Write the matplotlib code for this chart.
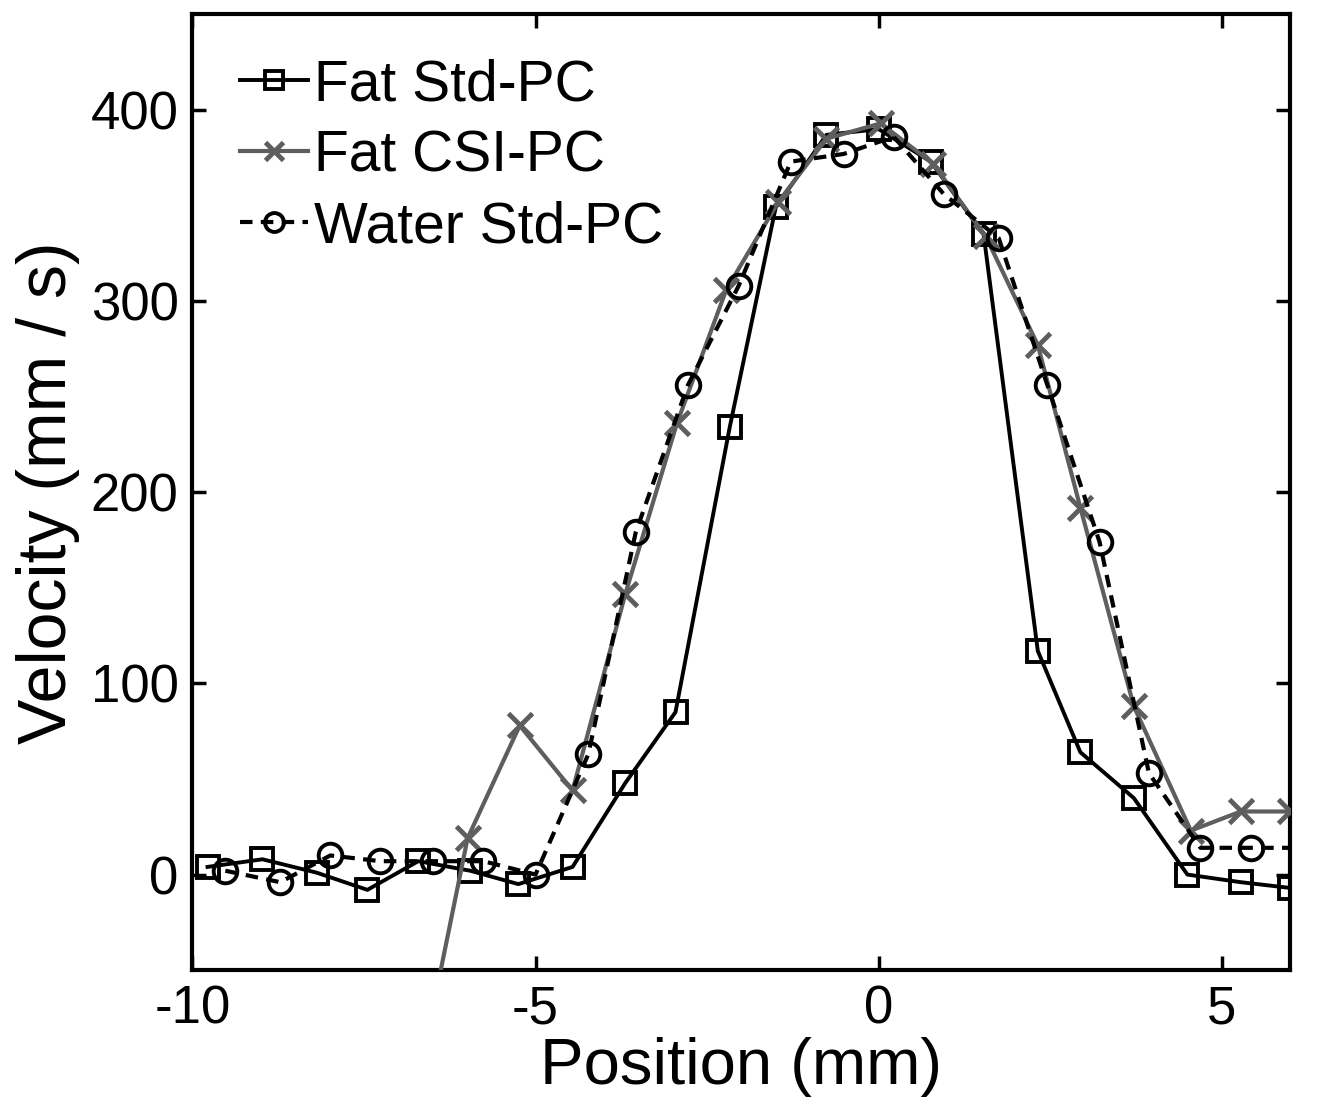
import matplotlib
matplotlib.use("Agg")
import matplotlib.pyplot as plt

plt.rcParams['font.family'] = ['Liberation Sans', 'DejaVu Sans']
plt.rcParams['axes.unicode_minus'] = False

# Fat Std-PC
fat_std_x = [-9.78, -8.98, -8.19, -7.45, -6.71, -5.95, -5.25, -4.46, -3.69, -2.96, -2.17,
             -1.50, -0.76, 0.0, 0.76, 1.53, 2.32, 2.94, 3.72, 4.50, 5.28, 6.0]
fat_std_y = [4, 8, 1, -8, 7, 2, -5, 4, 48, 85, 234,
             349, 387, 390, 373, 335, 117, 64, 40, 0, -4, -7]

# Fat CSI-PC
fat_csi_x = [-6.75, -5.99, -5.23, -4.46, -3.69, -2.94, -2.22, -1.46, -0.76, 0.03, 0.79,
             1.56, 2.32, 2.94, 3.72, 4.55, 5.28, 6.0]
fat_csi_y = [-115, 19, 78, 44, 147, 236, 306, 352, 385, 393, 372,
             334, 277, 192, 88, 23, 33, 33]

# Water Std-PC
water_x = [-9.52, -8.72, -7.99, -7.26, -6.50, -5.76, -5.0, -4.23, -3.54, -2.78, -2.04,
           -1.28, -0.51, 0.22, 0.95, 1.75, 2.46, 3.22, 3.94, 4.69, 5.42, 6.15]
water_y = [2, -4, 10, 7, 7, 7, 0, 63, 179, 256, 308,
           373, 377, 386, 356, 333, 256, 174, 53, 14, 14, 14]

x_ticks = [-10, -5, 0, 5]
y_ticks = [0, 100, 200, 300, 400]

fig = plt.figure(figsize=(13.18, 11.10), dpi=100)
ax = fig.add_axes([0.146, 0.126, 0.833, 0.861])

gray = '#5e5e5e'
ax.plot(fat_std_x, fat_std_y, color='black', lw=2.8, marker='s', ms=16,
        mfc='none', mec='black', mew=2.8, label='Fat Std-PC', zorder=3)
ax.plot(fat_csi_x, fat_csi_y, color=gray, lw=3.0, marker='x', ms=17,
        mec=gray, mew=3.5, label='Fat CSI-PC', zorder=4)
ax.plot(water_x, water_y, color='black', lw=3.0, ls=(0, (3, 2)), marker='o', ms=17,
        mfc='none', mec='black', mew=2.8, label='Water Std-PC', zorder=5)

ax.set_xlim(-10, 6)
ax.set_ylim(-50, 450)
ax.set_xticks(x_ticks)
ax.set_yticks(y_ticks)
ax.tick_params(direction='in', length=10, width=2.5, labelsize=38,
               top=True, right=True, pad=10)
for s in ax.spines.values():
    s.set_linewidth(3)

ax.set_xlabel('Position (mm)', fontsize=47, labelpad=2)
ax.set_ylabel('Velocity (mm / s)', fontsize=49, labelpad=8)

leg = ax.legend(loc='upper left', bbox_to_anchor=(0.012, 0.99), frameon=False,
                fontsize=41, handlelength=1.2, handletextpad=0.1,
                labelspacing=0.3, markerscale=0.8, borderaxespad=0.2)

fig.savefig('out.png', dpi=100)
